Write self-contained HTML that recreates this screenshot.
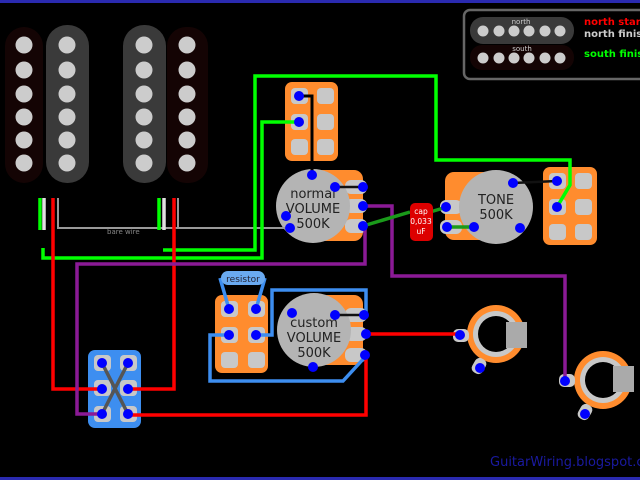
<!DOCTYPE html>
<html><head><meta charset="utf-8"><style>
html,body{margin:0;padding:0;background:#000;}
svg{display:block;}
text{font-family:"DejaVu Sans","Liberation Sans",sans-serif;}
</style></head><body>
<svg width="640" height="480" viewBox="0 0 640 480" xmlns="http://www.w3.org/2000/svg">
<rect width="640" height="480" fill="#000"/>
<rect x="0" y="0" width="640" height="3" fill="#2a2ab0"/>
<rect x="0" y="477" width="640" height="3" fill="#2a2ab0"/>

<!-- pickups -->
<rect x="5" y="27" width="38" height="156" rx="19" fill="#140404"/>
<rect x="46" y="25" width="43" height="158" rx="21" fill="#3a3a3a"/>
<rect x="123" y="25" width="43" height="158" rx="21" fill="#3a3a3a"/>
<rect x="167" y="27" width="41" height="156" rx="19" fill="#140404"/>
<g fill="#cccccc">
<circle cx="24" cy="45" r="8.5"/><circle cx="24" cy="70" r="8.5"/><circle cx="24" cy="94" r="8.5"/><circle cx="24" cy="117" r="8.5"/><circle cx="24" cy="140" r="8.5"/><circle cx="24" cy="163" r="8.5"/>
<circle cx="67" cy="45" r="8.5"/><circle cx="67" cy="70" r="8.5"/><circle cx="67" cy="94" r="8.5"/><circle cx="67" cy="117" r="8.5"/><circle cx="67" cy="140" r="8.5"/><circle cx="67" cy="163" r="8.5"/>
<circle cx="144" cy="45" r="8.5"/><circle cx="144" cy="70" r="8.5"/><circle cx="144" cy="94" r="8.5"/><circle cx="144" cy="117" r="8.5"/><circle cx="144" cy="140" r="8.5"/><circle cx="144" cy="163" r="8.5"/>
<circle cx="187" cy="45" r="8.5"/><circle cx="187" cy="70" r="8.5"/><circle cx="187" cy="94" r="8.5"/><circle cx="187" cy="117" r="8.5"/><circle cx="187" cy="140" r="8.5"/><circle cx="187" cy="163" r="8.5"/>
</g>

<!-- legend -->
<rect x="464" y="10" width="190" height="69" rx="6" fill="#000" stroke="#666" stroke-width="2.5"/>
<rect x="470" y="17" width="104" height="27" rx="13" fill="#3a3a3a"/>
<rect x="470" y="45" width="104" height="25" rx="12" fill="#140404"/>
<g fill="#cccccc">
<circle cx="483" cy="31" r="5.5"/><circle cx="499" cy="31" r="5.5"/><circle cx="514" cy="31" r="5.5"/><circle cx="529" cy="31" r="5.5"/><circle cx="545" cy="31" r="5.5"/><circle cx="560" cy="31" r="5.5"/>
<circle cx="483" cy="58" r="5.5"/><circle cx="499" cy="58" r="5.5"/><circle cx="514" cy="58" r="5.5"/><circle cx="529" cy="58" r="5.5"/><circle cx="545" cy="58" r="5.5"/><circle cx="560" cy="58" r="5.5"/>
</g>
<text x="521" y="24" font-size="7" fill="#ccc" text-anchor="middle">north</text>
<text x="522" y="51" font-size="7" fill="#ccc" text-anchor="middle">south</text>
<text x="584" y="25" font-size="10" font-weight="bold" fill="#ff0000">north start</text>
<text x="584" y="37" font-size="10" font-weight="bold" fill="#cccccc">north finish</text>
<text x="584" y="57" font-size="10" font-weight="bold" fill="#00ff00">south finish</text>

<!-- orange bodies -->
<rect x="285" y="82" width="53" height="79" rx="7" fill="#ff8c2e"/>
<rect x="543" y="167" width="54" height="78" rx="7" fill="#ff8c2e"/>
<rect x="215" y="295" width="53" height="78" rx="7" fill="#ff8c2e"/>
<rect x="88" y="350" width="53" height="78" rx="7" fill="#3d8ef0"/>
<g fill="#c8c8c8">
<rect x="291" y="88" width="17" height="16" rx="4"/><rect x="317" y="88" width="17" height="16" rx="4"/>
<rect x="291" y="114" width="17" height="16" rx="4"/><rect x="317" y="114" width="17" height="16" rx="4"/>
<rect x="291" y="139" width="17" height="16" rx="4"/><rect x="317" y="139" width="17" height="16" rx="4"/>
<rect x="549" y="173" width="17" height="16" rx="4"/><rect x="575" y="173" width="17" height="16" rx="4"/>
<rect x="549" y="199" width="17" height="16" rx="4"/><rect x="575" y="199" width="17" height="16" rx="4"/>
<rect x="549" y="224" width="17" height="16" rx="4"/><rect x="575" y="224" width="17" height="16" rx="4"/>
<rect x="221" y="301" width="17" height="16" rx="4"/><rect x="248" y="301" width="17" height="16" rx="4"/>
<rect x="221" y="327" width="17" height="16" rx="4"/><rect x="248" y="327" width="17" height="16" rx="4"/>
<rect x="221" y="352" width="17" height="16" rx="4"/><rect x="248" y="352" width="17" height="16" rx="4"/>
<rect x="94" y="355" width="17" height="16" rx="4"/><rect x="120" y="355" width="17" height="16" rx="4"/>
<rect x="94" y="380" width="17" height="16" rx="4"/><rect x="120" y="380" width="17" height="16" rx="4"/>
<rect x="94" y="406" width="17" height="16" rx="4"/><rect x="120" y="406" width="17" height="16" rx="4"/>
</g>

<!-- pots backs -->
<rect x="300" y="170" width="63" height="71" rx="9" fill="#ff8c2e"/>
<rect x="300" y="295" width="63" height="70" rx="9" fill="#ff8c2e"/>
<rect x="445" y="172" width="50" height="68" rx="9" fill="#ff8c2e"/>
<g fill="#c8c8c8">
<rect x="345" y="180" width="22" height="14" rx="6"/><rect x="345" y="199" width="22" height="14" rx="6"/><rect x="345" y="219" width="22" height="14" rx="6"/>
<rect x="345" y="308" width="22" height="14" rx="6"/><rect x="345" y="327" width="22" height="14" rx="6"/><rect x="345" y="348" width="22" height="14" rx="6"/>
<rect x="440" y="200" width="22" height="14" rx="6"/><rect x="440" y="220" width="22" height="14" rx="6"/>
</g>
<circle cx="313" cy="206" r="37" fill="#b4b4b4"/>
<circle cx="314" cy="330" r="37" fill="#b4b4b4"/>
<circle cx="496" cy="207" r="37" fill="#b4b4b4"/>
<g font-size="13" fill="#222" text-anchor="middle">
<text x="313" y="198">normal</text><text x="313" y="213">VOLUME</text><text x="313" y="228">500K</text>
<text x="314" y="327">custom</text><text x="314" y="342">VOLUME</text><text x="314" y="357">500K</text>
<text x="496" y="204">TONE</text><text x="496" y="219">500K</text>
</g>

<!-- jacks -->
<circle cx="496" cy="334" r="29" fill="#ff8c2e"/>
<circle cx="496" cy="334" r="23" fill="#c8c8c8"/>
<circle cx="496" cy="334" r="18" fill="#000"/>
<rect x="506" y="322" width="21" height="26" fill="#aaa"/>
<rect x="453" y="329" width="16" height="13" rx="5" fill="#c8c8c8"/>
<rect x="473" y="358" width="12" height="16" rx="5" fill="#c8c8c8" transform="rotate(30 479 366)"/>
<circle cx="603" cy="380" r="29" fill="#ff8c2e"/>
<circle cx="603" cy="380" r="23" fill="#c8c8c8"/>
<circle cx="603" cy="380" r="18" fill="#000"/>
<rect x="613" y="366" width="21" height="26" fill="#aaa"/>
<rect x="559" y="374" width="16" height="13" rx="5" fill="#c8c8c8"/>
<rect x="579" y="404" width="12" height="16" rx="5" fill="#c8c8c8" transform="rotate(30 585 412)"/>

<!-- wires -->
<g fill="none" stroke-width="3.5">
<path d="M40 198V230" stroke="#00ff00"/>
<path d="M44 198V230" stroke="#e0e0e0"/>
<path d="M58 198V228H285" stroke="#999" stroke-width="2"/>
<path d="M159 198V230" stroke="#00ff00"/>
<path d="M164 198V230" stroke="#e0e0e0"/>
<path d="M178 198V228" stroke="#999" stroke-width="2"/>
<path d="M43 248V258H262V122H299" stroke="#00ff00"/>
<path d="M163 250H255V76H436V160H570V185L557 207" stroke="#00ff00"/>
<path d="M53 198V389H102" stroke="#ff0000"/>
<path d="M174 198V389H128" stroke="#ff0000"/>
<path d="M363 206H392V276H565V381" stroke="#8b1a96"/>
<path d="M365 226V264H77V414H102" stroke="#8b1a96"/>
<path d="M363 226L410 212" stroke="#1a9a1a"/>
<path d="M430 212L447 207" stroke="#1a9a1a"/>
<path d="M447 227H474" stroke="#1a9a1a"/>
<path d="M299 96H312V175" stroke="#000" stroke-width="3"/>
<path d="M220 278L229 309M265 278L256 309" stroke="#3d8ef0"/>
<path d="M256 335H272V290H366V313" stroke="#3d8ef0"/>
<path d="M229 335H210V381H343L366 356" stroke="#3d8ef0"/>
<path d="M366 334H460" stroke="#ff0000"/>
<path d="M366 355V415H128" stroke="#ff0000"/>
<path d="M102 363L128 414M128 363L102 414" stroke="#555"/>
<path d="M335 187H363M335 315H364M513 183L557 181" stroke="#111" stroke-width="2.5"/>
</g>
<text x="107" y="234" font-size="7" fill="#888">bare wire</text>

<!-- cap -->
<rect x="410" y="203" width="23" height="38" rx="5" fill="#dd0000"/>
<g font-size="7.5" fill="#fff" text-anchor="middle">
<text x="421" y="214">cap</text><text x="421" y="224">0,033</text><text x="421" y="234">uF</text>
</g>

<!-- resistor -->
<rect x="221" y="271" width="44" height="14" rx="7" fill="#6aaaf0"/>
<text x="243" y="282" font-size="9" fill="#223" text-anchor="middle">resistor</text>

<!-- terminal stars -->
<g fill="#0000ff">
<circle cx="299" cy="96" r="5"/><circle cx="299" cy="122" r="5"/>
<circle cx="312" cy="175" r="5"/><circle cx="335" cy="187" r="5"/><circle cx="363" cy="187" r="5"/><circle cx="363" cy="206" r="5"/><circle cx="363" cy="226" r="5"/>
<circle cx="286" cy="216" r="5"/><circle cx="290" cy="228" r="5"/>
<circle cx="446" cy="207" r="5"/><circle cx="447" cy="227" r="5"/><circle cx="474" cy="227" r="5"/><circle cx="513" cy="183" r="5"/><circle cx="520" cy="228" r="5"/>
<circle cx="557" cy="181" r="5"/><circle cx="557" cy="207" r="5"/>
<circle cx="229" cy="309" r="5"/><circle cx="256" cy="309" r="5"/><circle cx="229" cy="335" r="5"/><circle cx="256" cy="335" r="5"/>
<circle cx="292" cy="313" r="5"/><circle cx="335" cy="315" r="5"/><circle cx="364" cy="315" r="5"/><circle cx="366" cy="334" r="5"/><circle cx="365" cy="355" r="5"/><circle cx="313" cy="367" r="5"/>
<circle cx="102" cy="363" r="5"/><circle cx="128" cy="363" r="5"/><circle cx="102" cy="389" r="5"/><circle cx="128" cy="389" r="5"/><circle cx="102" cy="414" r="5"/><circle cx="128" cy="414" r="5"/>
<circle cx="460" cy="335" r="5"/><circle cx="480" cy="368" r="5"/>
<circle cx="565" cy="381" r="5"/><circle cx="585" cy="414" r="5"/>
</g>

<text x="490" y="466" font-size="13" fill="#1a1aa0">GuitarWiring.blogspot.com</text>
</svg>
</body></html>
